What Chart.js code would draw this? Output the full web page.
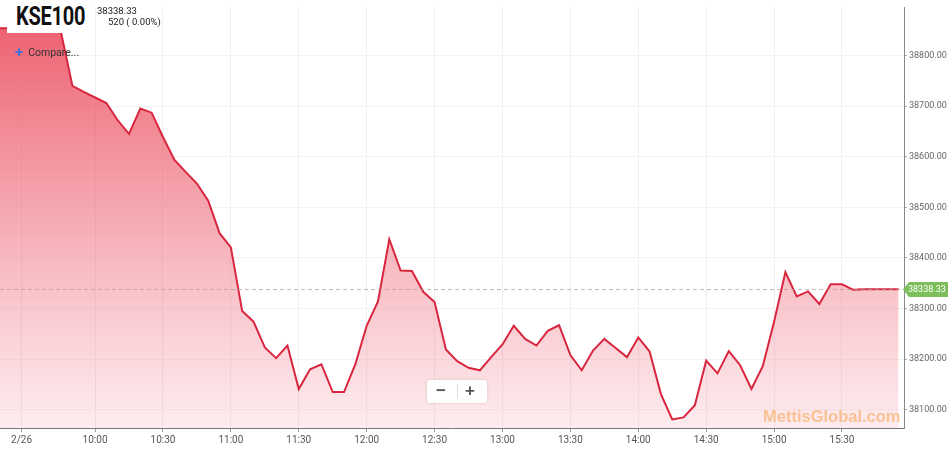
<!DOCTYPE html>
<html>
<head>
<meta charset="utf-8">
<script src="https://cdn.jsdelivr.net/npm/chart.js@4.4.0/dist/chart.umd.min.js"></script>
<style>
  body { margin: 0; background: #fff; font-family: Roboto, "Liberation Sans", sans-serif; }
  #wrap { position: relative; width: 950px; height: 450px; overflow: hidden; }
  #kseChart { position: absolute; left: 0; top: 0; }
  .title-box { position: absolute; left: 7px; top: 0; width: 88px; height: 33px; background: #fff; }
  .title { position: absolute; left: 16px; top: 2px; font: bold 25px Roboto, "Liberation Sans", sans-serif; color: #111;
           transform: scaleX(0.8); transform-origin: 0 0; letter-spacing: -0.3px; }
  .last { position: absolute; left: 97px; top: 5px; font-size: 9.5px; color: #222; }
  .chg { position: absolute; left: 108px; top: 16px; font-size: 9.5px; color: #222; }
  .compare { position: absolute; left: 15px; top: 43px; font-size: 10.5px; color: #333; }
  .compare b { color: #3a6fd8; font-size: 15px; font-weight: bold; margin-right: 5px; vertical-align: -1px; }
  .zoom { position: absolute; left: 427px; top: 380px; width: 60px; height: 23px; background: #fff;
          border-radius: 3px; box-shadow: 0 0 3px rgba(0,0,0,0.15); font: bold 17px "Liberation Sans", sans-serif; color: #555; }
  .zoom span { position: absolute; top: 1px; }
  .zoom .sep { position: absolute; left: 30px; top: 4px; width: 1px; height: 15px; background: #ddd; }
  .mark { position: absolute; left: 763px; top: 407px; font: bold 16.5px "Liberation Sans", Arial, sans-serif; color: rgba(246,168,90,0.6); }
</style>
</head>
<body>
<div id="wrap">
  <canvas id="kseChart" width="950" height="450"></canvas>
  <div class="title-box"></div>
  <div class="title">KSE100</div>
  <div class="last">38338.33</div>
  <div class="chg">520 ( 0.00%)</div>
  <div class="compare"><b>+</b>Compare...</div>
  <div class="mark">MettisGlobal.com</div>
  <div class="zoom"><span style="left:9px">&minus;</span><div class="sep"></div><span style="left:38px">+</span></div>
</div>
<script>
// 5-minute readings of the index, 26 Feb
const times = [
  '09:15','09:20','09:25','09:30','09:35','09:40','09:45','09:50','09:55',
  '10:00','10:05','10:10','10:15','10:20','10:25','10:30','10:35','10:40','10:45','10:50','10:55',
  '11:00','11:05','11:10','11:15','11:20','11:25','11:30','11:35','11:40','11:45','11:50','11:55',
  '12:00','12:05','12:10','12:15','12:20','12:25','12:30','12:35','12:40','12:45','12:50','12:55',
  '13:00','13:05','13:10','13:15','13:20','13:25','13:30','13:35','13:40','13:45','13:50','13:55',
  '14:00','14:05','14:10','14:15','14:20','14:25','14:30','14:35','14:40','14:45','14:50','14:55',
  '15:00','15:05','15:10','15:15','15:20','15:25','15:30','15:35','15:40','15:45','15:50','15:55'
];
const kseValues = [
  38854, 38854, 38855, 38854, 38855, 38854, 38845, 38740, 38728,
  38717, 38706, 38672, 38645, 38695, 38687, 38639, 38594, 38570, 38547, 38513, 38449,
  38421, 38295, 38274, 38223, 38202, 38227, 38141, 38180, 38190, 38135, 38135, 38190,
  38266, 38314, 38437, 38375, 38374, 38333, 38313, 38219, 38196, 38183, 38178, 38204,
  38229, 38266, 38240, 38227, 38256, 38267, 38208, 38178, 38217, 38240, 38222, 38204,
  38243, 38215, 38131, 38081, 38085, 38109, 38197, 38172, 38216, 38188, 38141, 38186,
  38274, 38372, 38324, 38334, 38309, 38348, 38348, 38337, 38338.33, 38338.33, 38338.33, 38338.33
];
const lastValue = 38338.33;

// x axis ticks (minutes after 9:00) and their labels
const xTickMins = [27.5, 60, 90, 120, 150, 180, 210, 240, 270, 300, 330, 360, 390];
const xTickLabels = ['2/26','10:00','10:30','11:00','11:30','12:00','12:30','13:00','13:30','14:00','14:30','15:00','15:30'];
const yTicks = [38100, 38200, 38300, 38400, 38500, 38600, 38700, 38800];

function toMinutes(t) {
  const p = t.split(':');
  return (+p[0] - 9) * 60 + (+p[1]);
}

const points = times.map((t, i) => ({ x: toMinutes(t), y: kseValues[i] }));

// dashed last-price line and green badge on the axis
const lastPricePlugin = {
  id: 'lastPrice',
  afterDraw(chart) {
    const ctx = chart.ctx;
    const area = chart.chartArea;
    const y = Math.round(chart.scales.y.getPixelForValue(lastValue)) + 0.5;
    ctx.save();
    ctx.strokeStyle = 'rgba(170,160,150,0.7)';
    ctx.lineWidth = 1;
    ctx.setLineDash([4, 3]);
    ctx.beginPath();
    ctx.moveTo(area.left, y);
    ctx.lineTo(area.right, y);
    ctx.stroke();
    ctx.setLineDash([]);
    // badge
    const x0 = area.right - 1;
    ctx.fillStyle = '#7cbf5a';
    ctx.beginPath();
    ctx.moveTo(x0, y);
    ctx.lineTo(x0 + 6, y - 7.5);
    ctx.lineTo(948, y - 7.5);
    ctx.lineTo(948, y + 7.5);
    ctx.lineTo(x0 + 6, y + 7.5);
    ctx.closePath();
    ctx.fill();
    ctx.fillStyle = '#fff';
    ctx.font = '9px Roboto, "Liberation Sans", sans-serif';
    ctx.textBaseline = 'middle';
    ctx.fillText(lastValue.toFixed(2), x0 + 5, y + 0.5);
    ctx.restore();
  }
};

const ctx = document.getElementById('kseChart').getContext('2d');

new Chart(ctx, {
  type: 'line',
  data: {
    datasets: [{
      label: 'KSE100',
      data: points,
      borderColor: '#d9263f',
      borderWidth: 2,
      pointRadius: 0,
      tension: 0,
      fill: 'start',
      backgroundColor: (c) => {
        const area = c.chart.chartArea;
        if (!area) return 'rgba(232,70,90,0.5)';
        const g = c.chart.ctx.createLinearGradient(0, area.top, 0, area.bottom);
        g.addColorStop(0, 'rgba(234,72,90,0.9)');
        g.addColorStop(0.5, 'rgba(238,100,116,0.55)');
        g.addColorStop(1, 'rgba(242,125,140,0.15)');
        return g;
      }
    }]
  },
  options: {
    responsive: false,
    animation: false,
    layout: { padding: 0 },
    plugins: {
      legend: { display: false },
      tooltip: { enabled: false }
    },
    scales: {
      x: {
        type: 'linear',
        min: 18,
        max: 417.4,
        afterBuildTicks: (scale) => {
          scale.ticks = xTickMins.map(v => ({ value: v }));
        },
        afterFit: (scale) => { scale.height = 22; },
        grid: { color: '#efefef', tickColor: '#999', tickLength: 4 },
        border: { color: '#777' },
        ticks: {
          autoSkip: false,
          maxRotation: 0,
          padding: 2,
          color: '#555',
          font: { family: 'Roboto', size: 10 },
          callback: (v, i) => xTickLabels[i]
        }
      },
      y: {
        position: 'right',
        min: 38064,
        max: 38895,
        afterBuildTicks: (scale) => {
          scale.ticks = yTicks.map(v => ({ value: v }));
        },
        afterFit: (scale) => { scale.width = 46; },
        grid: { color: '#f3f3f3', tickColor: '#aaa', tickLength: 3 },
        border: { color: '#888' },
        ticks: {
          padding: 2,
          color: '#666',
          font: { family: 'Roboto', size: 9 },
          callback: (v) => Number(v).toFixed(2)
        }
      }
    }
  },
  plugins: [lastPricePlugin]
});
</script>
</body>
</html>
